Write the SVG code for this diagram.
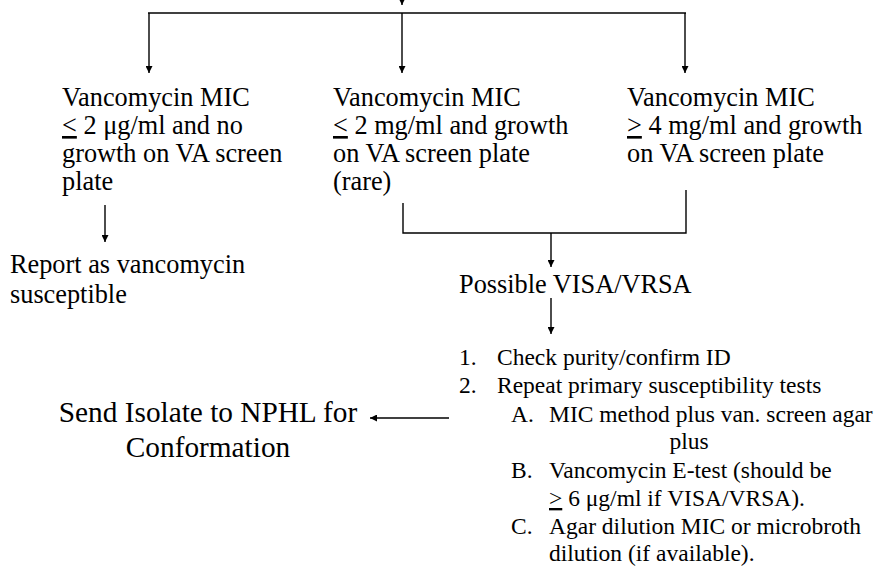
<svg xmlns="http://www.w3.org/2000/svg" width="874" height="567" viewBox="0 0 874 567">
<defs>
<marker id="ah" viewBox="0 0 10 10" refX="10" refY="5" markerWidth="8" markerHeight="7" markerUnits="userSpaceOnUse" orient="auto">
<path d="M0,0 L10,5 L0,10 Z" fill="#000"/>
</marker>
</defs>
<style>
.t{font-family:"Liberation Serif","Times New Roman",serif;font-size:26.3px;fill:#000}
.l{font-family:"Liberation Serif","Times New Roman",serif;font-size:23.5px;fill:#000}
.b{font-family:"Liberation Serif","Times New Roman",serif;font-size:29.3px;fill:#000}
.u{text-decoration:underline}
.c line,.c path{stroke:#000;stroke-width:1.4;fill:none}
</style>
<rect width="874" height="567" fill="#fff"/>
<g class="c" id="connectors">
<line x1="402" y1="-10" x2="402" y2="5" marker-end="url(#ah)"/>
<line x1="148" y1="13" x2="686" y2="13"/>
<line x1="149" y1="13" x2="149" y2="73" marker-end="url(#ah)"/>
<line x1="402" y1="13" x2="402" y2="73" marker-end="url(#ah)"/>
<line x1="685" y1="13" x2="685" y2="73" marker-end="url(#ah)"/>
<line x1="105" y1="205" x2="105" y2="242" marker-end="url(#ah)"/>
<path d="M403,203 V233 H686 V190"/>
<line x1="551" y1="233" x2="551" y2="267" marker-end="url(#ah)"/>
<line x1="551" y1="298" x2="551" y2="334" marker-end="url(#ah)"/>
<line x1="449" y1="418" x2="370" y2="418" marker-end="url(#ah)"/>
</g>
<g id="node-left">
<text class="t" x="62" y="106">Vancomycin MIC</text>
<text class="t" x="62" y="134"><tspan class="u">&lt;</tspan> 2 μg/ml and no</text>
<text class="t" x="62" y="162">growth on VA screen</text>
<text class="t" x="62" y="190">plate</text>
</g>
<g id="node-middle">
<text class="t" x="333" y="106">Vancomycin MIC</text>
<text class="t" x="333" y="134"><tspan class="u">&lt;</tspan> 2 mg/ml and growth</text>
<text class="t" x="333" y="162">on VA screen plate</text>
<text class="t" x="333" y="190">(rare)</text>
</g>
<g id="node-right">
<text class="t" x="627" y="106">Vancomycin MIC</text>
<text class="t" x="627" y="134"><tspan class="u">&gt;</tspan> 4 mg/ml and growth</text>
<text class="t" x="627" y="162">on VA screen plate</text>
</g>
<g id="node-report">
<text class="t" x="10" y="273">Report as vancomycin</text>
<text class="t" x="10" y="303">susceptible</text>
</g>
<g id="node-possible">
<text class="t" x="459" y="293">Possible VISA/VRSA</text>
</g>
<g id="node-send">
<text class="b" x="208" y="422" text-anchor="middle">Send Isolate to NPHL for</text>
<text class="b" x="208" y="457" text-anchor="middle">Conformation</text>
</g>
<g id="node-steps">
<text class="l" x="459" y="365">1.</text>
<text class="l" x="497" y="365">Check purity/confirm ID</text>
<text class="l" x="459" y="393">2.</text>
<text class="l" x="497" y="393">Repeat primary susceptibility tests</text>
<text class="l" x="511" y="422">A.</text>
<text class="l" x="549" y="422">MIC method plus van. screen agar</text>
<text class="l" x="689" y="449" text-anchor="middle">plus</text>
<text class="l" x="511" y="478">B.</text>
<text class="l" x="549" y="478">Vancomycin E-test (should be</text>
<text class="l" x="549" y="506"><tspan class="u">&gt;</tspan> 6 μg/ml if VISA/VRSA).</text>
<text class="l" x="511" y="534">C.</text>
<text class="l" x="549" y="534">Agar dilution MIC or microbroth</text>
<text class="l" x="549" y="561">dilution (if available).</text>
</g>
</svg>
